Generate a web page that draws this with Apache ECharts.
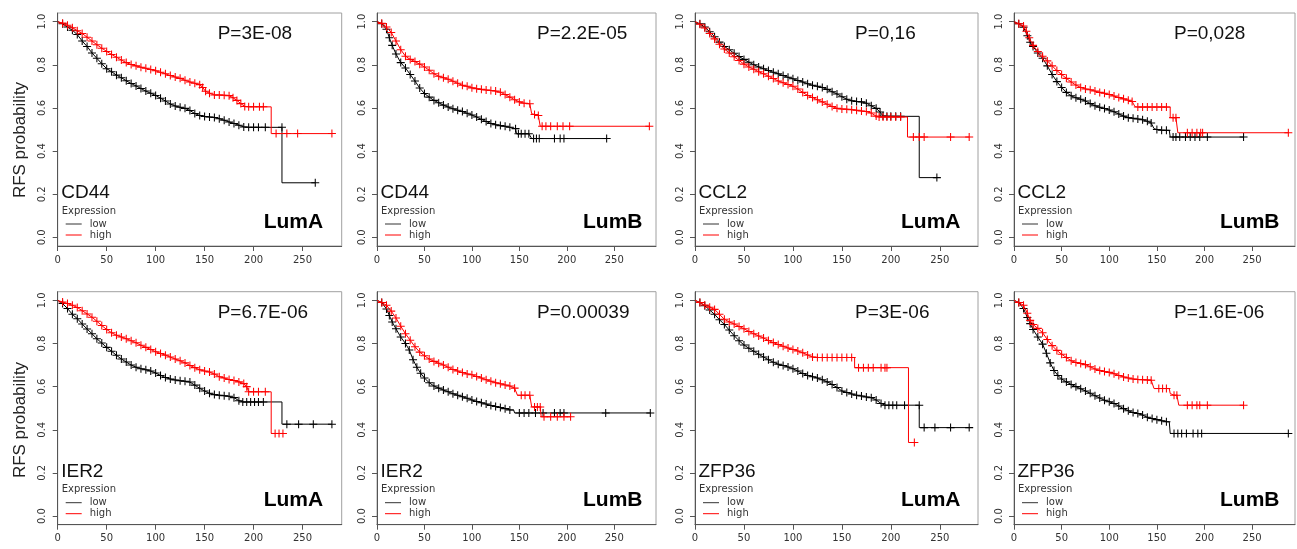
<!DOCTYPE html>
<html><head><meta charset="utf-8">
<script src="https://cdn.jsdelivr.net/npm/echarts@6/dist/echarts.min.js"></script>
<style>html,body{margin:0;padding:0;background:#fff}#c{width:1297px;height:549px}</style>
</head><body><div id="c"></div>
<script>
// ---------- DATA ----------
// points: [time, RFS probability]; third value 0 = plain vertex (no censor mark)
const CD44_LumA_low = [[0,1,0],[5,0.99],[10,0.975],[15,0.96],[20,0.94],[25,0.91],[30,0.885],[35,0.855],[40,0.83],[45,0.805],[50,0.782],[55,0.768],[60,0.752],[65,0.74],[70,0.726],[75,0.713],[80,0.702],[85,0.69],[90,0.678],[95,0.668],[100,0.658],[105,0.645],[110,0.632],[115,0.618],[120,0.609],[125,0.603],[130,0.598],[135,0.588],[140,0.574],[145,0.565],[150,0.56],[155,0.558],[160,0.556],[165,0.55],[170,0.543],[175,0.535],[180,0.528],[185,0.52],[190,0.512],[195,0.51],[200,0.51],[205,0.51],[212,0.51],[229,0.51],[229,0.253,0],[263,0.253]];
const CD44_LumA_high = [[0,1,0],[5,0.993],[10,0.983],[15,0.972],[20,0.958],[25,0.945],[30,0.928],[35,0.91],[40,0.893],[45,0.877],[50,0.862],[55,0.848],[60,0.835],[65,0.822],[70,0.81],[75,0.801],[80,0.795],[85,0.789],[90,0.784],[95,0.778],[100,0.772],[105,0.765],[110,0.758],[115,0.75],[120,0.743],[125,0.737],[130,0.728],[135,0.72],[140,0.714],[145,0.708],[148,0.695],[151,0.677],[155,0.668],[160,0.66],[165,0.66],[170,0.659],[175,0.657],[179,0.647],[183,0.635],[187,0.62],[191,0.607],[195,0.605],[200,0.605],[206,0.605],[210,0.605],[218,0.605,0],[218,0.481,0],[223,0.481],[234,0.481],[245,0.481],[280,0.481]];
const CD44_LumB_low = [[0,1,0],[5,0.99],[10,0.965],[13,0.925],[16,0.89],[20,0.85],[25,0.81],[30,0.785],[35,0.755],[40,0.725],[45,0.692],[50,0.667],[55,0.65],[60,0.635],[65,0.624],[70,0.613],[75,0.604],[80,0.596],[85,0.589],[90,0.583],[95,0.575],[100,0.567],[105,0.558],[110,0.547],[115,0.537],[120,0.528],[125,0.522],[130,0.518],[135,0.515],[140,0.51],[146,0.504],[147,0.48,0],[149,0.48],[152,0.48],[156,0.48],[160,0.48],[162,0.48,0],[163,0.458,0],[165,0.458],[168,0.458],[171,0.458],[187,0.458],[193,0.458],[197,0.458],[242,0.458]];
const CD44_LumB_high = [[0,1,0],[5,0.992],[10,0.975],[15,0.95],[20,0.91],[25,0.87],[30,0.84],[35,0.825],[40,0.815],[45,0.803],[50,0.79],[55,0.775],[60,0.758],[65,0.747],[70,0.74],[75,0.733],[80,0.724],[85,0.714],[90,0.705],[95,0.7],[100,0.693],[105,0.689],[110,0.686],[115,0.683],[120,0.681],[125,0.678],[130,0.673],[135,0.662],[140,0.65],[145,0.638],[150,0.628],[155,0.622],[161,0.619],[162,0.619,0],[163,0.573,0],[166,0.57],[170,0.565],[171,0.565,0],[172,0.515,0],[174,0.515],[178,0.515],[183,0.515],[190,0.515],[196,0.515],[203,0.515],[287,0.515]];
const CCL2_LumA_low = [[0,1,0],[5,0.99],[10,0.975],[15,0.953],[20,0.93],[25,0.905],[30,0.885],[35,0.87],[40,0.853],[45,0.838],[50,0.825],[55,0.812],[60,0.8],[65,0.79],[70,0.782],[75,0.773],[80,0.765],[85,0.758],[90,0.75],[95,0.742],[100,0.735],[105,0.727],[110,0.72],[115,0.712],[120,0.705],[125,0.7],[130,0.695],[135,0.686],[140,0.675],[145,0.665],[150,0.652],[155,0.64],[160,0.633],[165,0.63],[170,0.628],[175,0.622],[180,0.61],[185,0.598],[189,0.581],[192,0.562],[196,0.561],[200,0.561],[205,0.561],[210,0.561],[229,0.561,0],[229,0.277,0],[247,0.277]];
const CCL2_LumA_high = [[0,1,0],[5,0.988],[10,0.97],[15,0.945],[20,0.92],[25,0.895],[30,0.873],[35,0.855],[40,0.837],[45,0.82],[50,0.803],[55,0.79],[60,0.779],[65,0.768],[70,0.758],[75,0.747],[80,0.736],[85,0.725],[90,0.717],[95,0.709],[100,0.7],[105,0.688],[110,0.672],[115,0.658],[120,0.648],[125,0.638],[130,0.628],[135,0.617],[140,0.607],[145,0.598],[150,0.595],[155,0.594],[160,0.592],[165,0.589],[170,0.586],[175,0.583],[180,0.576],[185,0.562],[188,0.558],[192,0.558],[196,0.558],[200,0.558],[205,0.558],[210,0.558],[217,0.558,0],[217,0.465,0],[223,0.465],[229,0.465],[234,0.465],[261,0.465],[280,0.465]];
const CCL2_LumB_low = [[0,1,0],[5,0.99],[10,0.974],[14,0.935],[17,0.904],[20,0.885],[25,0.855],[30,0.83],[35,0.795],[40,0.755],[45,0.722],[50,0.695],[55,0.672],[60,0.656],[65,0.647],[70,0.64],[75,0.632],[80,0.62],[85,0.61],[90,0.603],[95,0.597],[100,0.59],[105,0.582],[110,0.572],[115,0.562],[120,0.555],[125,0.552],[130,0.549],[135,0.545],[140,0.538],[144,0.53],[146,0.53,0],[147,0.504,0],[150,0.5],[155,0.497],[160,0.496],[163,0.496,0],[164,0.465,0],[167,0.465],[170,0.465],[174,0.465],[180,0.465],[185,0.465],[190,0.465],[195,0.465],[203,0.465],[241,0.465]];
const CCL2_LumB_high = [[0,1,0],[5,0.99],[10,0.98],[13,0.955],[16,0.925],[20,0.89],[25,0.862],[30,0.84],[35,0.818],[40,0.795],[45,0.773],[50,0.755],[55,0.737],[60,0.72],[65,0.706],[70,0.695],[75,0.688],[80,0.684],[85,0.678],[90,0.672],[95,0.668],[100,0.662],[105,0.655],[110,0.648],[115,0.642],[120,0.636],[124,0.63],[126,0.63,0],[127,0.606,0],[130,0.604],[135,0.604],[140,0.604],[145,0.604],[150,0.604],[155,0.604],[160,0.604],[164,0.604,0],[164,0.555,0],[167,0.555],[170,0.555],[172,0.555,0],[172,0.485,0],[182,0.485],[187,0.485],[192,0.485],[196,0.485],[198,0.485],[288,0.485]];
const IER2_LumA_low = [[0,1,0],[5,0.985],[10,0.962],[15,0.935],[20,0.915],[25,0.89],[30,0.867],[35,0.845],[40,0.822],[45,0.802],[50,0.782],[55,0.764],[60,0.745],[65,0.728],[70,0.714],[75,0.7],[80,0.69],[85,0.683],[90,0.678],[95,0.672],[100,0.663],[105,0.652],[110,0.642],[115,0.635],[120,0.631],[125,0.627],[130,0.625],[135,0.621],[140,0.607],[145,0.592],[150,0.58],[155,0.569],[160,0.563],[165,0.56],[170,0.558],[175,0.555],[180,0.549],[185,0.535],[189,0.529],[193,0.529],[197,0.529],[201,0.529],[205,0.529],[210,0.529],[229,0.529,0],[229,0.426,0],[234,0.426],[246,0.426],[261,0.426],[280,0.426]];
const IER2_LumA_high = [[0,1,0],[5,0.992],[10,0.985],[15,0.977],[20,0.967],[25,0.952],[30,0.937],[35,0.922],[40,0.903],[45,0.883],[50,0.865],[55,0.85],[60,0.838],[65,0.83],[70,0.822],[75,0.813],[80,0.803],[85,0.792],[90,0.782],[95,0.772],[100,0.762],[105,0.754],[110,0.746],[115,0.737],[120,0.728],[125,0.72],[130,0.71],[135,0.698],[140,0.688],[145,0.678],[150,0.672],[155,0.668],[160,0.658],[165,0.646],[170,0.64],[175,0.633],[180,0.628],[185,0.622],[190,0.614],[193,0.6],[195,0.576],[200,0.576],[205,0.576],[212,0.576],[218,0.576,0],[218,0.383,0],[222,0.383],[226,0.383],[230,0.383]];
const IER2_LumB_low = [[0,1,0],[5,0.99],[10,0.96],[13,0.93],[16,0.9],[20,0.868],[25,0.83],[30,0.8],[34,0.77],[38,0.725],[42,0.69],[46,0.662],[50,0.64],[55,0.618],[60,0.603],[65,0.593],[70,0.584],[75,0.576],[80,0.567],[85,0.56],[90,0.553],[95,0.546],[100,0.538],[105,0.531],[110,0.525],[115,0.519],[120,0.513],[125,0.508],[130,0.503],[135,0.498],[140,0.492],[144,0.492,0],[145,0.478,0],[150,0.478],[155,0.478],[160,0.478],[167,0.478],[175,0.478],[187,0.478],[193,0.478],[197,0.478],[241,0.478],[288,0.478]];
const IER2_LumB_high = [[0,1,0],[5,0.99],[10,0.977],[15,0.95],[20,0.918],[25,0.88],[30,0.845],[35,0.815],[40,0.785],[45,0.76],[50,0.743],[55,0.728],[60,0.717],[65,0.708],[70,0.7],[75,0.69],[80,0.679],[85,0.672],[90,0.665],[95,0.659],[100,0.655],[105,0.647],[110,0.64],[115,0.632],[120,0.625],[125,0.618],[130,0.613],[135,0.608],[140,0.603],[145,0.593],[147,0.593,0],[148,0.56,0],[152,0.56],[156,0.56],[161,0.56],[162,0.56,0],[163,0.506,0],[166,0.506],[169,0.506],[172,0.506],[173,0.46,0],[176,0.46],[183,0.46],[190,0.46],[197,0.46],[204,0.46]];
const ZFP36_LumA_low = [[0,1,0],[5,0.99],[10,0.975],[15,0.955],[20,0.935],[25,0.91],[30,0.888],[35,0.862],[40,0.836],[45,0.813],[50,0.793],[55,0.778],[60,0.764],[65,0.75],[70,0.737],[75,0.725],[80,0.713],[85,0.704],[90,0.698],[95,0.691],[100,0.683],[105,0.672],[110,0.661],[115,0.652],[120,0.646],[125,0.64],[130,0.632],[135,0.622],[140,0.61],[145,0.596],[150,0.58],[155,0.573],[160,0.566],[165,0.56],[170,0.557],[175,0.552],[180,0.549],[185,0.538],[190,0.522],[194,0.514],[198,0.514],[202,0.514],[206,0.514],[214,0.514],[229,0.514],[229,0.41,0],[234,0.41],[245,0.41],[261,0.41],[280,0.41]];
const ZFP36_LumA_high = [[0,1,0],[5,0.99],[10,0.978],[15,0.968],[20,0.958],[25,0.935],[30,0.912],[35,0.9],[40,0.89],[45,0.879],[50,0.868],[55,0.856],[60,0.845],[65,0.835],[70,0.825],[75,0.814],[80,0.804],[85,0.795],[90,0.787],[95,0.779],[100,0.772],[105,0.765],[110,0.757],[115,0.747],[120,0.737],[125,0.735],[130,0.735],[135,0.735],[140,0.735],[145,0.735],[150,0.735],[155,0.735],[160,0.735],[163,0.735,0],[163,0.688,0],[167,0.688],[172,0.688],[177,0.688],[182,0.688],[190,0.688],[194,0.688],[196,0.688],[218,0.688,0],[218,0.341,0],[224,0.341]];
const ZFP36_LumB_low = [[0,1,0],[5,0.99],[10,0.962],[14,0.92],[17,0.892],[20,0.865],[25,0.83],[30,0.797],[34,0.755],[38,0.71],[42,0.675],[46,0.652],[50,0.635],[55,0.622],[60,0.61],[65,0.6],[70,0.59],[75,0.58],[80,0.569],[85,0.558],[90,0.547],[95,0.537],[100,0.53],[105,0.522],[110,0.51],[115,0.498],[120,0.488],[125,0.48],[130,0.475],[135,0.468],[140,0.458],[145,0.452],[150,0.447],[155,0.442],[160,0.437],[163,0.437,0],[164,0.383,0],[168,0.383],[172,0.383],[176,0.383],[181,0.383],[188,0.383],[193,0.383],[197,0.383],[288,0.383]];
const ZFP36_LumB_high = [[0,1,0],[5,0.99],[10,0.977],[14,0.94],[17,0.907],[20,0.888],[25,0.87],[30,0.85],[35,0.818],[40,0.79],[45,0.768],[50,0.75],[55,0.735],[60,0.72],[65,0.712],[70,0.707],[75,0.702],[80,0.692],[85,0.682],[90,0.675],[95,0.67],[100,0.666],[105,0.66],[110,0.652],[115,0.645],[120,0.64],[125,0.635],[130,0.633],[135,0.632],[140,0.631],[144,0.63],[146,0.63,0],[147,0.591,0],[152,0.591],[156,0.591],[160,0.591],[163,0.591,0],[164,0.568,0],[168,0.56],[171,0.56],[172,0.56,0],[173,0.514,0],[182,0.514],[187,0.514],[192,0.514],[195,0.514],[203,0.514],[241,0.514]];

const genes    = ['CD44','CD44','CCL2','CCL2','IER2','IER2','ZFP36','ZFP36'];
const subtypes = ['LumA','LumB','LumA','LumB','LumA','LumB','LumA','LumB'];
const pValues  = ['P=3E-08','P=2.2E-05','P=0,16','P=0,028','P=6.7E-06','P=0.00039','P=3E-06','P=1.6E-06'];
const xMax     = [290,294,289,295,290,294,289,295];
const xTicks   = [0,50,100,150,200,250];
const yTicks   = [0,0.2,0.4,0.6,0.8,1.0];
const lowCurves  = [CD44_LumA_low, CD44_LumB_low, CCL2_LumA_low, CCL2_LumB_low, IER2_LumA_low, IER2_LumB_low, ZFP36_LumA_low, ZFP36_LumB_low];
const highCurves = [CD44_LumA_high, CD44_LumB_high, CCL2_LumA_high, CCL2_LumB_high, IER2_LumA_high, IER2_LumB_high, ZFP36_LumA_high, ZFP36_LumB_high];
const legendLabels = ['low','high'];

// ---------- LAYOUT ----------
const colLeft = [57.7, 377, 695, 1014];
const colWidth = [284, 279, 283, 281];
const rowTop = [13, 291.7];
const boxH = 233;
const PLUS = 'path://M4.35,0H5.65V4.35H10V5.65H5.65V10H4.35V5.65H0V4.35H4.35Z';
const SANS = '"Liberation Sans", Arial, sans-serif';
const SMALL = '"DejaVu Sans", sans-serif';

function toData(arr){
  return arr.map(p => (p.length > 2 && p[2] === 0) ? {value:[p[0],p[1]], symbol:'none'} : {value:[p[0],p[1]]});
}
function txt(x, y, text, font, fill, align, rot){
  return {type:'text', x:x, y:y, rotation:rot||0, silent:true, z:100,
    style:{text:text, font:font, fill:fill, textAlign:align||'left', align:align||'left', textVerticalAlign:'middle', verticalAlign:'middle'}};
}

const grids=[], xAxes=[], yAxes=[], series=[], graphics=[];
for (let i=0;i<8;i++){
  const r=Math.floor(i/4), c=i%4;
  const L=colLeft[c], T=rowTop[r], W=colWidth[c];
  grids.push({left:L, top:T, width:W, height:boxH, show:true, borderColor:'#a0a0a0', borderWidth:1, backgroundColor:'#fff'});
  xAxes.push({type:'value', gridIndex:i, min:0, max:xMax[i],
    axisLine:{show:true, onZero:false, lineStyle:{color:'#555', width:1}},
    axisTick:{show:true, length:5, customValues:xTicks, lineStyle:{color:'#555'}},
    axisLabel:{customValues:xTicks, color:'#333', fontSize:10, margin:9, fontFamily:SMALL},
    splitLine:{show:false}});
  yAxes.push({type:'value', gridIndex:i, min:-0.04, max:1.04,
    axisLine:{show:true, onZero:false, lineStyle:{color:'#555', width:1}},
    axisTick:{show:true, length:5, customValues:yTicks, lineStyle:{color:'#555'}},
    axisLabel:{customValues:yTicks, rotate:90, color:'#333', fontSize:10, margin:10, fontFamily:SMALL, formatter:v=>v.toFixed(1)},
    splitLine:{show:false}});
  [[lowCurves[i],'#000000'],[highCurves[i],'#ff0000']].forEach((sc,k)=>{
    series.push({type:'line', name:legendLabels[k], xAxisIndex:i, yAxisIndex:i, data:toData(sc[0]),
      symbol:PLUS, symbolSize:8, showSymbol:true, showAllSymbol:true, clip:true,
      lineStyle:{color:sc[1], width:1}, itemStyle:{color:sc[1]}, emphasis:{disabled:true}, z:2+k});
  });
  graphics.push(txt(L+160, T+21, pValues[i], '19px '+SANS, '#111'));
  graphics.push(txt(L+3.5, T+180, genes[i], '19px '+SANS, '#111'));
  graphics.push(txt(L+4, T+198, 'Expression', '10px '+SMALL, '#333'));
  graphics.push({type:'line', silent:true, z:100, shape:{x1:L+8,y1:T+211,x2:L+24,y2:T+211}, style:{stroke:'#333', lineWidth:1}});
  graphics.push({type:'line', silent:true, z:100, shape:{x1:L+8,y1:T+222,x2:L+24,y2:T+222}, style:{stroke:'#ff0000', lineWidth:1}});
  graphics.push(txt(L+32, T+211, legendLabels[0], '10px '+SMALL, '#333'));
  graphics.push(txt(L+32, T+222, legendLabels[1], '10px '+SMALL, '#333'));
  graphics.push(txt(L+206, T+209, subtypes[i], 'bold 21px '+SANS, '#000'));
}
graphics.push(txt(20, 140, 'RFS probability', '17px '+SANS, '#222', 'center', Math.PI/2));
graphics.push(txt(20, 420, 'RFS probability', '17px '+SANS, '#222', 'center', Math.PI/2));

const chart = echarts.init(document.getElementById('c'));
chart.setOption({animation:false, backgroundColor:'#fff', grid:grids, xAxis:xAxes, yAxis:yAxes, series:series, graphic:graphics});
</script></body></html>
